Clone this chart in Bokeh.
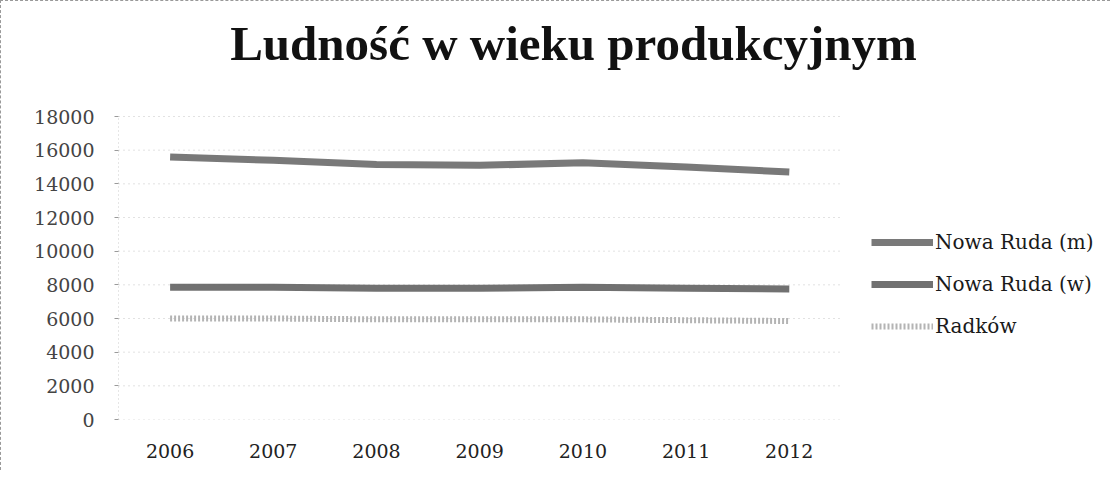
from bokeh.plotting import figure
from bokeh.models import Range1d, Label, Legend, LegendItem, FixedTicker
from bokeh.embed import file_html
from bokeh.resources import INLINE

years = ["2006", "2007", "2008", "2009", "2010", "2011", "2012"]
nowa_ruda_m = [15600, 15400, 15150, 15100, 15250, 15000, 14700]
nowa_ruda_w = [7850, 7850, 7800, 7800, 7850, 7800, 7750]
radkow = [6000, 6000, 5950, 5950, 5950, 5900, 5850]
y_ticks = [0, 2000, 4000, 6000, 8000, 10000, 12000, 14000, 16000, 18000]

xs = list(range(len(years)))
x_lo, x_hi = -0.5, len(years) - 0.5

W, H = 1110, 470
LEFT, BOTTOM = 117, 52
frame_h = H - BOTTOM            # 418 px
plot_h = 303                    # px taken by 0..18000
frame_w = W - LEFT
cat_w = 103.2                   # px per category
y_top = 18000 * frame_h / plot_h
x_end = x_lo + frame_w / cat_w

p = figure(width=W, height=H, x_range=Range1d(x_lo, x_end), y_range=Range1d(0, y_top),
           output_backend="svg", toolbar_location=None,
           min_border_left=LEFT, min_border_right=0, min_border_top=0, min_border_bottom=BOTTOM)
p.outline_line_color = None
p.background_fill_color = "white"
p.border_fill_color = "white"
p.xgrid.grid_line_color = None
p.ygrid.grid_line_color = None

# gridlines and axis lines limited to the plot area
p.segment(x0=[x_lo] * len(y_ticks), x1=[x_hi] * len(y_ticks), y0=y_ticks, y1=y_ticks,
          line_color="#c4c4c4", line_dash="1 4", line_width=1)
p.segment(x0=[x_lo], x1=[x_lo], y0=[0], y1=[y_ticks[-1]],
          line_color="#9a9a9a", line_dash="1 3", line_width=1)

p.yaxis.ticker = FixedTicker(ticks=y_ticks)
p.yaxis.axis_line_color = None
p.yaxis.major_tick_line_color = "#9a9a9a"
p.yaxis.major_tick_out = 4
p.yaxis.major_tick_in = 0
p.yaxis.minor_tick_line_color = None
p.yaxis.major_label_text_font = "DejaVu Serif"
p.yaxis.major_label_text_font_size = "19px"
p.yaxis.major_label_text_color = "#444444"
p.yaxis.major_label_standoff = 20

p.xaxis.ticker = FixedTicker(ticks=xs)
p.xaxis.major_label_overrides = {i: y for i, y in zip(xs, years)}
p.xaxis.axis_line_color = None
p.xaxis.major_tick_line_color = None
p.xaxis.minor_tick_line_color = None
p.xaxis.major_label_text_font = "DejaVu Serif"
p.xaxis.major_label_text_font_size = "19px"
p.xaxis.major_label_text_color = "#222222"
p.xaxis.major_label_standoff = 18

r_m = p.line(xs, nowa_ruda_m, line_color="#6a6a6a", line_width=7, line_alpha=0.9)
r_w = p.line(xs, nowa_ruda_w, line_color="#626262", line_width=7, line_alpha=0.9)
r_r = p.line(xs, radkow, line_color="#b4b4b4", line_width=6, line_dash="2 2")

legend = Legend(items=[LegendItem(label="Nowa Ruda (m)", renderers=[r_m]),
                       LegendItem(label="Nowa Ruda (w)", renderers=[r_w]),
                       LegendItem(label="Radków", renderers=[r_r])],
                location=(753, 81), orientation="vertical")
legend.background_fill_alpha = 0
legend.border_line_color = None
legend.padding = 0
legend.margin = 0
legend.glyph_width = 62
legend.glyph_height = 20
legend.label_height = 20
legend.spacing = 18
legend.label_standoff = 2
legend.label_text_font = "DejaVu Serif"
legend.label_text_font_size = "20px"
legend.label_text_color = "#1a1a1a"
p.add_layout(legend)

title = Label(x=455, y=376, x_units="screen", y_units="screen",
              text="Ludność w wieku produkcyjnym", text_align="center",
              text_baseline="middle", text_font="Liberation Serif",
              text_font_style="bold", text_font_size="49px", text_color="#111111")
p.add_layout(title)

p.styles = {"border-top": "1px dashed #999999", "border-left": "1px dashed #999999"}

open("out.html", "w").write(file_html(p, INLINE))
